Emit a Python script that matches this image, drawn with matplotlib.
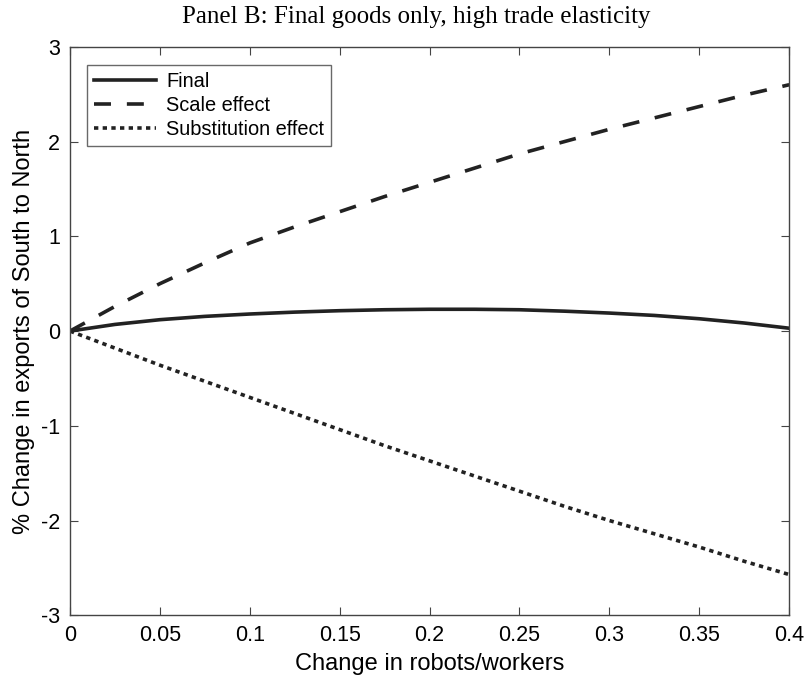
import numpy as np
import matplotlib.pyplot as plt

# robots/workers change (x) and % change in exports South -> North
x = [0, 0.025, 0.05, 0.075, 0.1, 0.125, 0.15, 0.175, 0.2,
     0.225, 0.25, 0.275, 0.3, 0.325, 0.35, 0.375, 0.4]
final = [0, 0.07, 0.12, 0.155, 0.18, 0.20, 0.215, 0.225, 0.23,
         0.23, 0.225, 0.21, 0.19, 0.165, 0.13, 0.085, 0.03]
scale = [0, 0.26, 0.50, 0.72, 0.93, 1.10, 1.26, 1.42, 1.57,
         1.72, 1.87, 2.00, 2.13, 2.25, 2.37, 2.49, 2.60]
subst = [0, -0.18, -0.36, -0.53, -0.70, -0.87, -1.04, -1.21, -1.37,
         -1.53, -1.69, -1.85, -2.00, -2.14, -2.28, -2.43, -2.57]

xticks = [0, 0.05, 0.1, 0.15, 0.2, 0.25, 0.3, 0.35, 0.4]
xticklabels = ['0', '0.05', '0.1', '0.15', '0.2', '0.25', '0.3', '0.35', '0.4']
yticks = [-3, -2, -1, 0, 1, 2, 3]

plt.rcParams['font.family'] = 'Liberation Sans'
plt.rcParams['axes.unicode_minus'] = False

fig = plt.figure(figsize=(8.09, 6.89), dpi=100)
ax = fig.add_axes([0.0865, 0.107, 0.889, 0.825])

ax.plot(x, final, color='#222222', lw=2.6, label='Final')
ax.plot(x, scale, color='#222222', lw=2.6, dashes=(4.7, 4.4), label='Scale effect')
ax.plot(x, subst, color='#222222', lw=2.6, dashes=(1.2, 1.2), label='Substitution effect')

ax.set_xlim(0, 0.4)
ax.set_ylim(-3, 3)
ax.set_xticks(xticks)
ax.set_xticklabels(xticklabels)
ax.set_yticks(yticks)
ax.tick_params(direction='in', length=6, width=0.8, labelsize=15.5, color='#444444',
               top=True, right=True, pad=7)
for s in ax.spines.values():
    s.set_color('#444444')
    s.set_linewidth(1.0)

ax.set_xlabel('Change in robots/workers', fontsize=17, labelpad=5)
ax.set_ylabel('% Change in exports of South to North', fontsize=17, labelpad=4)

fig.text(0.514, 0.975, 'Panel B: Final goods only, high trade elasticity',
         ha='center', va='center', fontsize=18, family='Liberation Serif')

leg = ax.legend(loc='upper left', bbox_to_anchor=(0.024, 0.968), fontsize=14.4,
                frameon=True, fancybox=False, handlelength=3.1, handletextpad=0.5,
                borderpad=0.35, labelspacing=0.25, borderaxespad=0)
leg.get_frame().set_edgecolor('#444444')
leg.get_frame().set_linewidth(1.0)

fig.savefig('out.png', dpi=100)
